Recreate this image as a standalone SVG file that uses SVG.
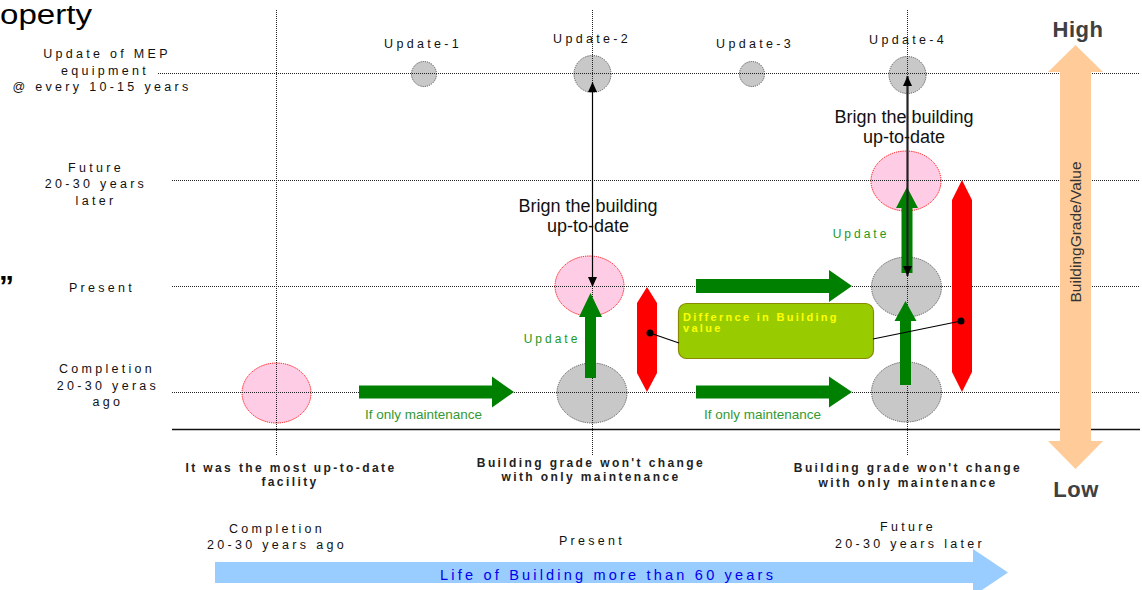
<svg xmlns="http://www.w3.org/2000/svg" width="1142" height="590" viewBox="0 0 1142 590">
<defs>
<style>
.grid{stroke:#222;stroke-width:1;stroke-dasharray:1 1;fill:none}
.gray{fill:#C8C8C8;stroke:#555;stroke-width:1;stroke-dasharray:1.2 1}
.pink{fill:#FFCCE5;stroke:#FF0000;stroke-width:1;stroke-dasharray:1.2 1}
.garrow{fill:#008000}
.red{fill:#FF0000}
.lbl{font-family:'Liberation Sans',Arial,sans-serif;font-size:12.5px;letter-spacing:3.3px;fill:#111;text-anchor:middle}
.bold{font-family:'Liberation Sans',Arial,sans-serif;font-size:12px;font-weight:bold;letter-spacing:2.4px;fill:#222;text-anchor:middle}
.upd{font-family:'Liberation Sans',Arial,sans-serif;font-size:12px;letter-spacing:3px;fill:#229922;text-anchor:middle}
.maint{font-family:'Liberation Sans',Arial,sans-serif;font-size:13.5px;fill:#339933}
.brign{font-family:'Liberation Sans',Arial,sans-serif;font-size:18px;fill:#111;text-anchor:middle}
.hl{font-family:'Liberation Sans',Arial,sans-serif;font-size:22px;font-weight:bold;fill:#404040;text-anchor:middle;letter-spacing:0.5px}
.diff{font-family:'Liberation Sans',Arial,sans-serif;font-size:11px;font-weight:bold;letter-spacing:2.3px;fill:#FFFF00}
</style>
<marker id="ah" markerUnits="userSpaceOnUse" markerWidth="10" markerHeight="10" viewBox="0 0 10 10" refX="10" refY="5" orient="auto-start-reverse">
<path d="M0,0.5 L10,5 L0,9.5 Z" fill="#000"/>
</marker>
</defs>
<rect width="1142" height="590" fill="#fff"/>

<g id="title-fragment">
<text x="0" y="24" font-family="'Liberation Sans',Arial,sans-serif" font-size="27" textLength="92" lengthAdjust="spacingAndGlyphs" fill="#000">operty</text>
<text x="-1" y="296" font-family="'Liberation Sans',Arial,sans-serif" font-size="30" font-weight="bold" fill="#000">”</text>
</g>

<g id="ellipses">
<g id="mep-update-1"><circle cx="424" cy="74" r="12.5" class="gray"/></g>
<g id="mep-update-2"><circle cx="592.5" cy="74" r="18.5" class="gray"/></g>
<g id="mep-update-3"><circle cx="752" cy="74" r="12.5" class="gray"/></g>
<g id="mep-update-4"><circle cx="907.5" cy="75" r="18.5" class="gray"/></g>
<g id="completion-state"><ellipse cx="276.5" cy="393" rx="34.5" ry="30" class="pink"/></g>
<g id="present-updated"><ellipse cx="589.5" cy="286" rx="34.5" ry="30" class="pink"/></g>
<g id="present-maintained"><ellipse cx="592" cy="393" rx="35" ry="30" class="gray"/></g>
<g id="future-updated"><ellipse cx="906" cy="181" rx="35" ry="30" class="pink"/></g>
<g id="future-once-updated"><ellipse cx="906.5" cy="287" rx="35" ry="30" class="gray"/></g>
<g id="future-maintained"><ellipse cx="906.5" cy="392" rx="35" ry="30" class="gray"/></g>
</g>

<g id="grid">
<line x1="276.5" y1="10" x2="276.5" y2="455" class="grid"/>
<line x1="592.5" y1="10" x2="592.5" y2="455" class="grid"/>
<line x1="907.5" y1="10" x2="907.5" y2="455" class="grid"/>
<line x1="158" y1="73.5" x2="1140" y2="73.5" class="grid"/>
<line x1="172" y1="180.5" x2="1140" y2="180.5" class="grid"/>
<line x1="172" y1="286.5" x2="1140" y2="286.5" class="grid"/>
<line x1="172" y1="392.5" x2="1140" y2="392.5" class="grid"/>
<line x1="172" y1="429.5" x2="1140" y2="429.5" stroke="#111" stroke-width="1.5"/>
</g>

<g id="axis-labels">
<text class="lbl" x="107" y="58">Update of MEP</text>
<text class="lbl" x="105" y="75">equipment</text>
<text class="lbl" x="102" y="91">@ every 10-15 years</text>
<text class="lbl" x="96" y="172">Future</text>
<text class="lbl" x="96" y="188">20-30 years</text>
<text class="lbl" x="96" y="205">later</text>
<text class="lbl" x="102" y="292">Present</text>
<text class="lbl" x="107" y="373">Completion</text>
<text class="lbl" x="108" y="390">20-30 yeras</text>
<text class="lbl" x="108" y="406">ago</text>
<text class="lbl" x="423" y="48">Update-1</text>
<text class="lbl" x="592" y="43">Update-2</text>
<text class="lbl" x="755" y="48">Update-3</text>
<text class="lbl" x="908" y="44">Update-4</text>
</g>

<g id="value-differences">
<g id="diff-present"><polygon class="red" points="647,287 657,303 657,373 647,392 637,373 637,303"/></g>
<g id="diff-future"><polygon class="red" points="962,180 972,200 972,372 962,392 952,372 952,200"/></g>
<g id="diff-callout">
<rect x="678.5" y="303.5" width="195" height="55" rx="8" fill="#99CC00" stroke="#8A8A00" stroke-width="1.2"/>
<text class="diff" x="683" y="321">Differnce in Building</text>
<text class="diff" x="683" y="332">value</text>
</g>
</g>

<g id="connectors">
<path class="garrow" d="M359,385.5 H492 V376.5 L514,392 L492,407.5 V398.5 H359 Z"/>
<path class="garrow" d="M696,279 H829 V270 L852,286 L829,302 V293 H696 Z"/>
<path class="garrow" d="M696,385.5 H829 V376.5 L852,392 L829,407.5 V398.5 H696 Z"/>
<path class="garrow" d="M585,378 V317 H579 L590.5,293 L602,317 H596 V378 Z"/>
<path class="garrow" d="M900,385 V321 H894.5 L905.5,301 L916.5,321 H911 V385 Z"/>
<path class="garrow" d="M901.5,273 V208 H896 L907,187 L918,208 H912.5 V273 Z"/>
<line x1="592.5" y1="82" x2="592.5" y2="287" stroke="#000" stroke-width="1.2" marker-start="url(#ah)" marker-end="url(#ah)"/>
<line x1="907.5" y1="76" x2="907.5" y2="276" stroke="#222" stroke-width="2.2" marker-start="url(#ah)" marker-end="url(#ah)"/>
<line x1="650" y1="333" x2="679" y2="343" stroke="#000" stroke-width="1.2"/>
<line x1="873" y1="339" x2="961" y2="321" stroke="#000" stroke-width="1.2"/>
<circle cx="650" cy="333" r="3.5" fill="#000"/>
<circle cx="961" cy="321" r="3.5" fill="#000"/>
</g>

<g id="arrow-labels">
<text class="brign" x="588" y="212">Brign the building</text>
<text class="brign" x="588" y="232">up-to-date</text>
<text class="brign" x="904" y="123">Brign the building</text>
<text class="brign" x="904" y="143">up-to-date</text>
<text class="upd" x="552" y="343">Update</text>
<text class="upd" x="861" y="238">Update</text>
<text class="maint" x="365" y="419">If only maintenance</text>
<text class="maint" x="704" y="419">If only maintenance</text>
</g>

<g id="grade-axis">
<polygon points="1075.5,45 1103,72 1091,72 1091,441 1103,441 1075.5,469 1048,441 1060,441 1060,72 1048,72" fill="#FFCC99"/>
<text transform="translate(1076,232) rotate(-90)" x="0" y="5" font-family="'Liberation Sans',Arial,sans-serif" font-size="15.5" fill="#333" text-anchor="middle">BuildingGrade/Value</text>
<text class="hl" x="1078" y="37">High</text>
<text class="hl" x="1076" y="497">Low</text>
</g>

<g id="notes">
<text class="bold" x="291" y="472">It was the most up-to-date</text>
<text class="bold" x="290" y="486">facility</text>
<text class="bold" x="591" y="467">Building grade won't change</text>
<text class="bold" x="591" y="481">with only maintenance</text>
<text class="bold" x="908" y="472">Building grade won't change</text>
<text class="bold" x="908" y="487">with only maintenance</text>
</g>

<g id="timeline">
<path d="M215,562 H973 V549 L1008,572.5 L973,596 V583 H215 Z" fill="#99CCFF"/>
<text x="440" y="580" font-family="'Liberation Sans',Arial,sans-serif" font-size="14.5" letter-spacing="3.2" fill="#0000EE">Life of Building more than 60 years</text>
<text class="lbl" x="277" y="533">Completion</text>
<text class="lbl" x="277" y="549">20-30 years ago</text>
<text class="lbl" x="592" y="545">Present</text>
<text class="lbl" x="908" y="531">Future</text>
<text class="lbl" x="910" y="548">20-30 years later</text>
</g>
</svg>
